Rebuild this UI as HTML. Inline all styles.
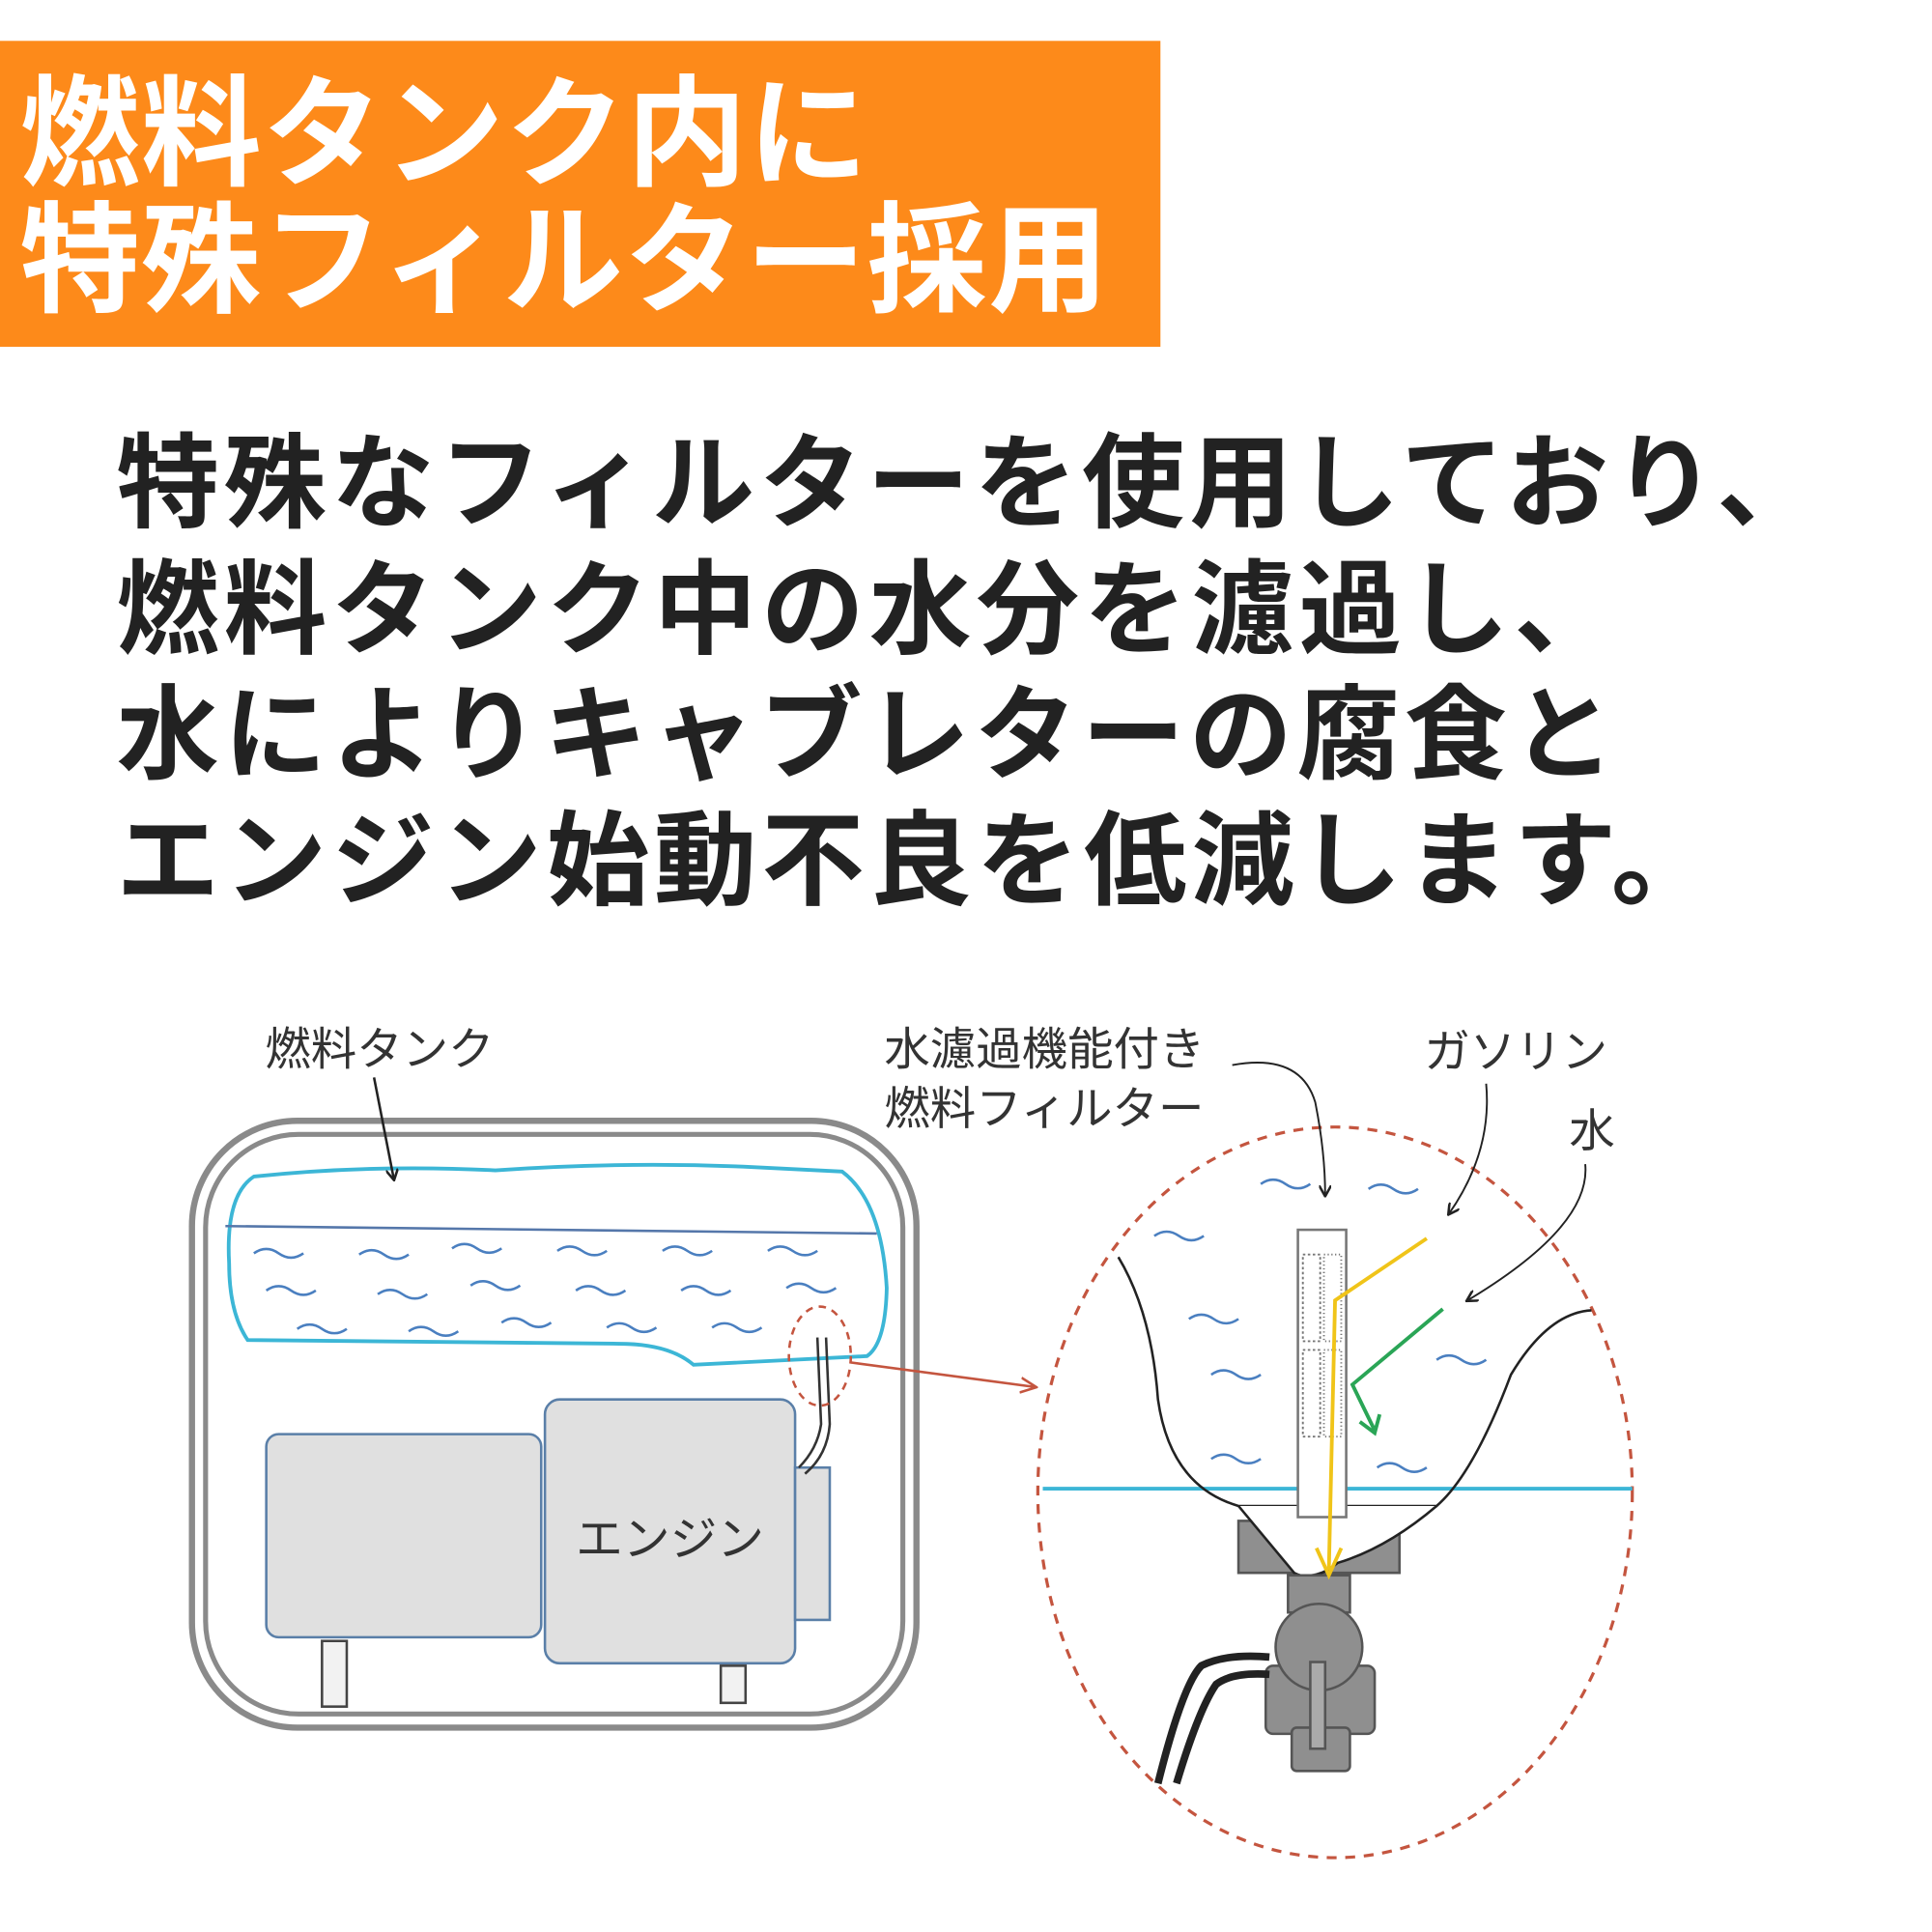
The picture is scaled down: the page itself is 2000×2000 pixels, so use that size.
<!DOCTYPE html>
<html><head><meta charset="utf-8"><style>
html,body{margin:0;padding:0;background:#fff;width:2000px;height:2000px;overflow:hidden}
#w{position:absolute;left:0;top:0;width:1560px;height:1560px;transform:scale(1.28205);transform-origin:0 0}
.jp{font-family:"Liberation Sans","Noto Sans CJK JP",sans-serif}
#banner{position:absolute;left:0;top:33px;width:937px;height:247px;background:#FD8A1A}
#bt{position:absolute;left:16px;top:58px;color:#fff;font-weight:bold;font-size:97px;line-height:102px;white-space:nowrap;letter-spacing:1px}
#body{position:absolute;left:94px;top:340px;color:#222;font-weight:bold;font-size:83px;line-height:101.5px;white-space:nowrap;letter-spacing:3.8px}
svg{position:absolute;left:0;top:0}
</style></head><body><div id="w">
<div id="banner"></div>
<div id="bt" class="jp">燃料タンク内に<br>特殊フィルター採用</div>
<div id="body" class="jp">特殊なフィルターを使用しており、<br>燃料タンク中の水分を濾過し、<br>水によりキャブレターの腐食と<br>エンジン始動不良を低減します。</div>
<svg width="1560" height="1560" viewBox="0 0 1560 1560">
<defs>
<marker id="ak" markerWidth="10" markerHeight="10" refX="8" refY="5" orient="auto" markerUnits="userSpaceOnUse"><path d="M0,0 L9,5 L0,10" fill="none" stroke="#222" stroke-width="2"/></marker>
<marker id="ar" markerWidth="14" markerHeight="14" refX="12" refY="7" orient="auto" markerUnits="userSpaceOnUse"><path d="M0,1 L13,7 L0,13" fill="none" stroke="#c4553f" stroke-width="2"/></marker>
</defs>
<g font-family="Liberation Sans,Noto Sans CJK JP,sans-serif" fill="#333" font-size="37">
<text x="214" y="860">燃料タンク</text>
<text x="714" y="860">水濾過機能付き</text>
<text x="714" y="908">燃料フィルター</text>
<text x="1150" y="862">ガソリン</text>
<text x="1267" y="926">水</text>
</g>
<rect x="155" y="905" width="585" height="490" rx="85" fill="none" stroke="#8a8a8a" stroke-width="5"/>
<rect x="166" y="916" width="563" height="468" rx="75" fill="none" stroke="#8a8a8a" stroke-width="4"/>
<path d="M205,950 Q300,940 400,945 Q500,938 600,942 L680,946 Q712,970 716,1040 Q715,1085 700,1095 L560,1102 Q540,1085 500,1085 L200,1082 Q185,1060 185,1020 Q182,965 205,950 Z" fill="#fff" stroke="#3cb6d6" stroke-width="3"/>
<line x1="182" y1="990" x2="708" y2="996" stroke="#5577aa" stroke-width="2"/>
<g fill="none" stroke="#4a7fc0" stroke-width="2">
<path d="M205,1012 q10,-7 20,0 t20,0"/><path d="M290,1013 q10,-7 20,0 t20,0"/><path d="M365,1008 q10,-7 20,0 t20,0"/><path d="M450,1010 q10,-7 20,0 t20,0"/><path d="M535,1010 q10,-7 20,0 t20,0"/><path d="M620,1010 q10,-7 20,0 t20,0"/>
<path d="M215,1042 q10,-7 20,0 t20,0"/><path d="M305,1045 q10,-7 20,0 t20,0"/><path d="M380,1038 q10,-7 20,0 t20,0"/><path d="M465,1042 q10,-7 20,0 t20,0"/><path d="M550,1042 q10,-7 20,0 t20,0"/><path d="M635,1040 q10,-7 20,0 t20,0"/>
<path d="M240,1073 q10,-7 20,0 t20,0"/><path d="M330,1075 q10,-7 20,0 t20,0"/><path d="M405,1068 q10,-7 20,0 t20,0"/><path d="M490,1072 q10,-7 20,0 t20,0"/><path d="M575,1072 q10,-7 20,0 t20,0"/>
</g>
<line x1="302" y1="870" x2="318" y2="952" stroke="#222" stroke-width="2" marker-end="url(#ak)"/>
<rect x="215" y="1158" width="222" height="164" rx="10" fill="#e0e0e0" stroke="#5a7fa8" stroke-width="2"/>
<rect x="440" y="1130" width="202" height="213" rx="12" fill="#e0e0e0" stroke="#5a7fa8" stroke-width="2"/>
<rect x="642" y="1185" width="28" height="123" fill="#e0e0e0" stroke="#5a7fa8" stroke-width="2"/>
<rect x="260" y="1325" width="20" height="53" fill="#f2f2f2" stroke="#444" stroke-width="2"/>
<rect x="582" y="1345" width="20" height="30" fill="#f2f2f2" stroke="#444" stroke-width="2"/>
<text x="541" y="1256" text-anchor="middle" font-family="Liberation Sans,Noto Sans CJK JP,sans-serif" font-size="38" fill="#333">エンジン</text>
<path d="M660,1080 L663,1150 Q660,1170 645,1185" fill="none" stroke="#333" stroke-width="2"/>
<path d="M667,1080 L670,1150 Q668,1175 650,1190" fill="none" stroke="#333" stroke-width="2"/>
<ellipse cx="662" cy="1095" rx="25" ry="40" fill="none" stroke="#c4553f" stroke-width="2" stroke-dasharray="6,5"/>
<line x1="686" y1="1100" x2="836" y2="1120" stroke="#c4553f" stroke-width="2" marker-end="url(#ar)"/>
<ellipse cx="1078" cy="1205" rx="240" ry="295" fill="none" stroke="#c4553f" stroke-width="2.5" stroke-dasharray="8,7"/>
<line x1="842" y1="1202" x2="1318" y2="1202" stroke="#3cb6d6" stroke-width="3"/>
<path d="M903,1015 Q930,1060 935,1130 Q945,1200 1000,1216 L1160,1216 Q1190,1190 1220,1110 Q1250,1060 1285,1058" fill="none" stroke="#222" stroke-width="2"/>
<g fill="none" stroke="#4a7fc0" stroke-width="2">
<path d="M1018,956 q10,-7 20,0 t20,0"/><path d="M1105,960 q10,-7 20,0 t20,0"/><path d="M932,998 q10,-7 20,0 t20,0"/>
<path d="M960,1065 q10,-7 20,0 t20,0"/><path d="M978,1110 q10,-7 20,0 t20,0"/><path d="M978,1178 q10,-7 20,0 t20,0"/>
<path d="M1160,1098 q10,-7 20,0 t20,0"/><path d="M1112,1185 q10,-7 20,0 t20,0"/>
</g>
<path d="M1000,1228 L1130,1228 L1130,1270 L1000,1270 Z" fill="#8f8f8f" stroke="#555" stroke-width="2"/>
<path d="M1000,1216 L1160,1216 Q1120,1250 1080,1262 Q1060,1275 1045,1270 Q1020,1240 1000,1216 Z" fill="#fff"/>
<path d="M1000,1216 Q1020,1240 1045,1270 Q1060,1278 1080,1262 Q1120,1250 1160,1216" fill="none" stroke="#222" stroke-width="2"/>
<rect x="1040" y="1272" width="50" height="30" fill="#8f8f8f" stroke="#555" stroke-width="2"/>
<rect x="1022" y="1345" width="88" height="55" rx="6" fill="#8f8f8f" stroke="#555" stroke-width="2"/>
<rect x="1043" y="1395" width="47" height="35" rx="4" fill="#8f8f8f" stroke="#555" stroke-width="2"/>
<circle cx="1065" cy="1330" r="35" fill="#8f8f8f" stroke="#555" stroke-width="2"/>
<rect x="1058" y="1342" width="12" height="70" fill="#aaa" stroke="#555" stroke-width="2"/>
<path d="M1025,1338 Q990,1335 970,1345 Q955,1360 935,1440" fill="none" stroke="#222" stroke-width="6"/>
<path d="M1025,1352 Q995,1350 982,1360 Q968,1380 950,1440" fill="none" stroke="#222" stroke-width="6"/>
<rect x="1048" y="993" width="39" height="232" fill="#fff" stroke="#777" stroke-width="2"/>
<rect x="1052" y="1013" width="14" height="70" fill="#fff" stroke="#777" stroke-width="1.5" stroke-dasharray="2,2"/>
<rect x="1069" y="1013" width="14" height="70" fill="#fff" stroke="#777" stroke-width="1.5" stroke-dasharray="1,2"/>
<rect x="1052" y="1090" width="14" height="70" fill="#fff" stroke="#777" stroke-width="1.5" stroke-dasharray="2,2"/>
<rect x="1069" y="1090" width="14" height="70" fill="#fff" stroke="#777" stroke-width="1.5" stroke-dasharray="1,2"/>
<path d="M1152,1000 L1078,1050 L1073,1268" fill="none" stroke="#f0c419" stroke-width="3"/>
<path d="M1063,1250 L1073,1272 L1083,1250" fill="none" stroke="#f0c419" stroke-width="3"/>
<path d="M1165,1057 L1092,1118 L1110,1155" fill="none" stroke="#2aa556" stroke-width="3"/>
<path d="M1098,1148 L1110,1157 L1114,1142" fill="none" stroke="#2aa556" stroke-width="3"/>
<path d="M995,860 Q1050,850 1062,890 Q1070,930 1070,965" fill="none" stroke="#222" stroke-width="1.5" marker-end="url(#ak)"/>
<path d="M1200,875 Q1205,930 1170,980" fill="none" stroke="#222" stroke-width="1.5" marker-end="url(#ak)"/>
<path d="M1280,940 Q1285,990 1185,1050" fill="none" stroke="#222" stroke-width="1.5" marker-end="url(#ak)"/>
</svg>
</div></body></html>
